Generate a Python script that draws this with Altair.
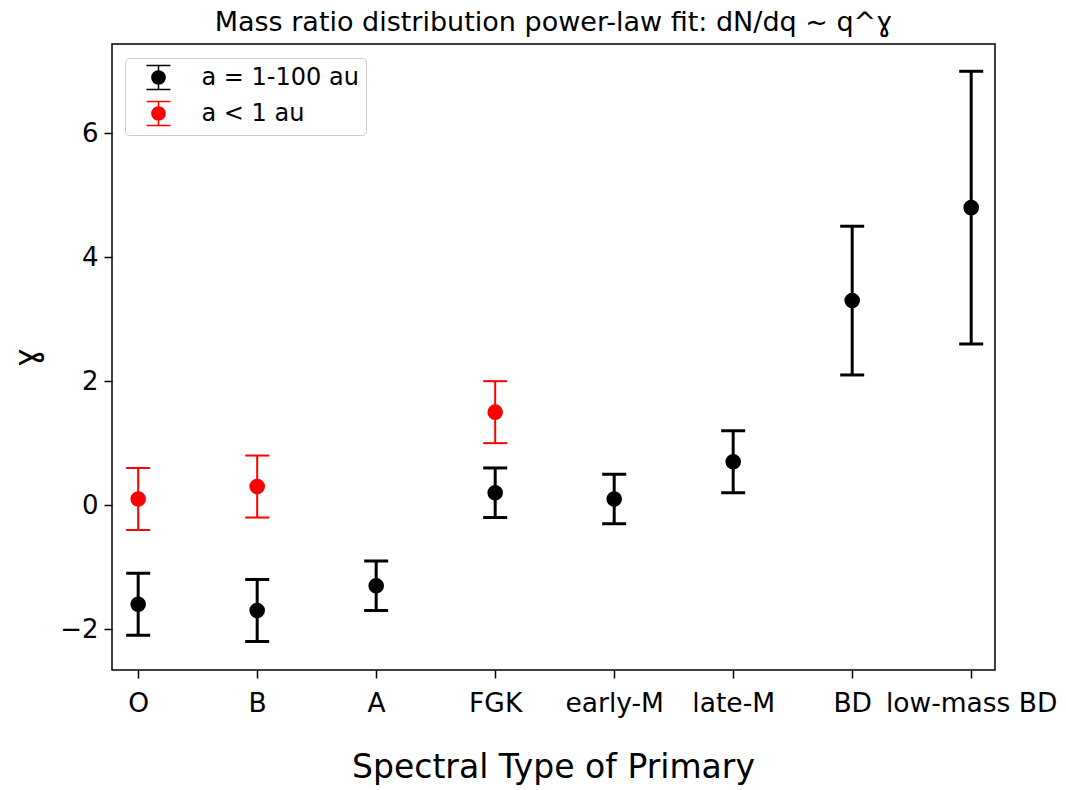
import altair as alt
import pandas as pd

categories = ["O", "B", "A", "FGK", "early-M", "late-M", "BD", "low-mass BD"]

wide_label = "a = 1-100 au"
wide_gamma = [-1.6, -1.7, -1.3, 0.2, 0.1, 0.7, 3.3, 4.8]
wide_lo = [-2.1, -2.2, -1.7, -0.2, -0.3, 0.2, 2.1, 2.6]
wide_hi = [-1.1, -1.2, -0.9, 0.6, 0.5, 1.2, 4.5, 7.0]

close_label = "a < 1 au"
close_cats = ["O", "B", "FGK"]
close_gamma = [0.1, 0.3, 1.5]
close_lo = [-0.4, -0.2, 1.0]
close_hi = [0.6, 0.8, 2.0]

series_names = [wide_label, close_label]
series_colors = ["#000000", "#ff0000"]

TITLE = "Mass ratio distribution power-law fit: dN/dq ~ q^\u0263"
FONT = "DejaVu Sans"

wide_df = pd.DataFrame({
    "series": wide_label,
    "pos": [categories.index(c) for c in categories],
    "gamma": wide_gamma, "lo": wide_lo, "hi": wide_hi,
})
close_df = pd.DataFrame({
    "series": close_label,
    "pos": [categories.index(c) for c in close_cats],
    "gamma": close_gamma, "lo": close_lo, "hi": close_hi,
})
all_df = pd.concat([wide_df, close_df], ignore_index=True)

label_expr = "[" + ",".join("'" + c + "'" for c in categories) + "][datum.value]"
x_scale = alt.Scale(domain=[-0.22, 7.2], nice=False, zero=False)

x_enc = alt.X(
    "pos:Q",
    scale=x_scale,
    axis=alt.Axis(
        values=list(range(len(categories))), labelExpr=label_expr,
        title="Spectral Type of Primary", titleFontSize=33, titleFont=FONT,
        titleFontWeight="normal", titleColor="black",
        titleX=441, titleY=107, titleBaseline="alphabetic", titleAlign="center",
        labelFontSize=26.5, labelFont=FONT, labelColor="black", labelPadding=12.5,
        labelLimit=0, tickSize=8, tickWidth=1.5, tickColor="black",
        domain=False, grid=False, labelOverlap=False, labelFlush=False,
    ),
)


def y_enc(field):
    return alt.Y(
        field + ":Q",
        scale=alt.Scale(domain=[-2.66, 7.44], nice=False, zero=False),
        axis=alt.Axis(
            values=[-2, 0, 2, 4, 6],
            labelExpr="replace(format(datum.value, 'd'), '-', '\u2212')",
            title="\u0263", titleFontSize=32, titleFont=FONT, titleFontWeight="normal",
            titleColor="black", titleX=-86, titleY=313, titleAngle=-90,
            titleAlign="center", titleBaseline="middle",
            labelFontSize=26, labelFont=FONT, labelColor="black", labelPadding=6,
            tickSize=8, tickWidth=1.5, tickColor="black", domain=False, grid=False,
        ),
    )


def errorbars(df, color, width):
    base = alt.Chart(df)
    stem = base.mark_rule(color=color, strokeWidth=width, opacity=1).encode(
        x=x_enc, y=y_enc("lo"), y2="hi:Q"
    )
    cap_lo = base.mark_tick(color=color, orient="horizontal", size=24, thickness=width, opacity=1).encode(
        x=x_enc, y=y_enc("lo")
    )
    cap_hi = base.mark_tick(color=color, orient="horizontal", size=24, thickness=width, opacity=1).encode(
        x=x_enc, y=y_enc("hi")
    )
    return stem + cap_lo + cap_hi


legend_path = ("M-1,-1H1M0,-1V1M-1,1H1"
               "M0.55,0A0.55,0.55,0,1,1,-0.55,0A0.55,0.55,0,1,1,0.55,0Z")

legend = alt.Legend(
    title=None, orient="none", legendX=13, legendY=14,
    symbolType=legend_path, symbolSize=576, symbolOffset=14,
    labelFontSize=24, labelFont=FONT, labelColor="black", labelOffset=30,
    rowPadding=6, padding=6.5, cornerRadius=4,
    strokeColor="#cccccc", fillColor="rgba(255,255,255,0.8)",
)

points = alt.Chart(all_df).mark_point(filled=True, size=185, strokeWidth=2, opacity=1, shape="circle").encode(
    x=x_enc,
    y=y_enc("gamma"),
    fill=alt.Fill("series:N", scale=alt.Scale(domain=series_names, range=series_colors), legend=legend),
    stroke=alt.Stroke("series:N", scale=alt.Scale(domain=series_names, range=series_colors), legend=legend),
)

# chart title drawn as the title of a top axis (no ticks/labels)
title_layer = alt.Chart(all_df).mark_point(opacity=0).encode(
    x=alt.X(
        "pos:Q", scale=x_scale,
        axis=alt.Axis(
            orient="top", title=TITLE, labels=False, ticks=False, domain=False, grid=False,
            titleFontSize=27, titleFont=FONT, titleFontWeight="normal", titleColor="black",
            titleX=441, titleY=-14, titleBaseline="alphabetic", titleAlign="center",
        ),
    ),
    y=y_enc("gamma"),
)

main = alt.layer(
    errorbars(wide_df, "#000000", 3),
    errorbars(close_df, "#ff0000", 2),
    points,
)

chart = alt.layer(main, title_layer).resolve_axis(x="independent").properties(
    width=883, height=626,
    autosize=alt.AutoSizeParams(type="none"),
    padding={"left": 104, "top": 36, "right": 63, "bottom": 120},
).configure_view(
    stroke="black", strokeWidth=1.5
)

chart.save("out.html", embed_options={"renderer": "svg", "actions": False})
